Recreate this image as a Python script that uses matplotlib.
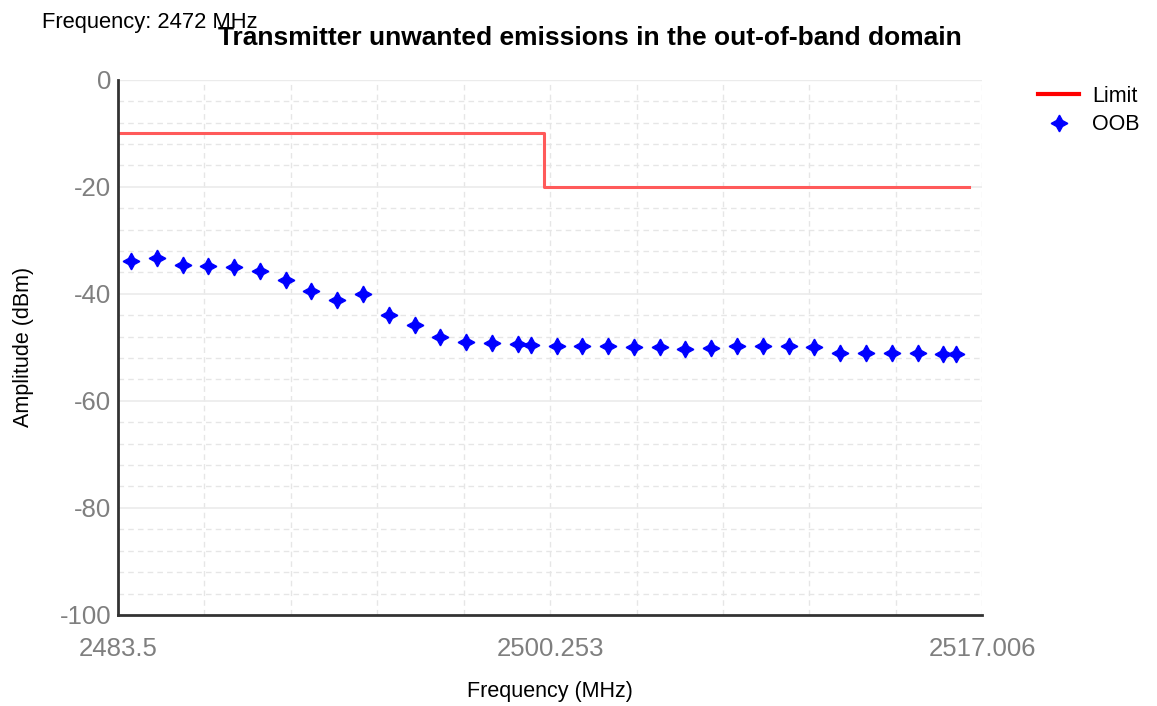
import matplotlib
matplotlib.use("Agg")
import matplotlib.pyplot as plt
import numpy as np

plt.rcParams['font.family'] = ['Liberation Sans', 'DejaVu Sans']
plt.rcParams['axes.unicode_minus'] = False

# Limit mask (step at 2500 MHz)
limit_freq = [2483.5, 2500.0, 2500.0, 2516.5]
limit_amp = [-10, -10, -20, -20]

# OOB measurements
oob_freq = [2484, 2485, 2486, 2487, 2488, 2489, 2490, 2491, 2492, 2493,
            2494, 2495, 2496, 2497, 2498, 2499, 2499.5,
            2500.5, 2501.5, 2502.5, 2503.5, 2504.5, 2505.5, 2506.5, 2507.5,
            2508.5, 2509.5, 2510.5, 2511.5, 2512.5, 2513.5, 2514.5, 2515.5, 2516]
oob_amp = [-33.8, -33.3, -34.7, -34.8, -35.0, -35.8, -37.4, -39.4, -41.1, -40.0,
           -43.9, -45.9, -48.0, -49.0, -49.2, -49.3, -49.5,
           -49.7, -49.8, -49.7, -49.9, -50.0, -50.3, -50.2, -49.7,
           -49.8, -49.8, -50.0, -51.0, -51.0, -51.1, -51.0, -51.2, -51.2]

x_min, x_max = 2483.5, 2517.006
x_ticks = [2483.5, 2500.253, 2517.006]
x_tick_labels = ['2483.5', '2500.253', '2517.006']
y_ticks = [0, -20, -40, -60, -80, -100]

fig = plt.figure(figsize=(11.57, 7.06), dpi=100)
ax = fig.add_axes([0.102, 0.129, 0.747, 0.758])

# grid
for xv in np.linspace(x_min, x_max, 11)[1:]:
    ax.axvline(xv, color='#e6e6e6', lw=1, ls=(0, (4, 3)), zorder=0)
for yv in range(-96, 0, 4):
    if yv % 20 == 0:
        ax.axhline(yv, color='#ebebeb', lw=1.2, zorder=0)
    else:
        ax.axhline(yv, color='#e6e6e6', lw=1, ls=(0, (4, 3)), zorder=0)
ax.axhline(0, color='#ebebeb', lw=1, zorder=0)

ax.plot(limit_freq, limit_amp, color='#ff5a5a', lw=2.2, label='Limit')
ax.plot(oob_freq, oob_amp, ls='none', marker=(4, 1, 0), ms=12,
        color='blue', markeredgewidth=1.0, label='OOB')

ax.set_xlim(x_min, x_max)
ax.set_ylim(-100, 0)
ax.set_xticks(x_ticks)
ax.set_xticklabels(x_tick_labels)
ax.set_yticks(y_ticks)
ax.tick_params(length=0, labelsize=18.5, colors='#7f7f7f')
ax.tick_params(axis='x', pad=16)
ax.tick_params(axis='y', pad=5)

for side in ['top', 'right']:
    ax.spines[side].set_visible(False)
for side in ['left', 'bottom']:
    ax.spines[side].set_color('#333333')
    ax.spines[side].set_linewidth(2)

ax.set_xlabel('Frequency (MHz)', fontsize=15.5, labelpad=14)
ax.set_ylabel('Amplitude (dBm)', fontsize=15.5, labelpad=18)
ax.set_title('Transmitter unwanted emissions in the out-of-band domain',
             fontsize=19, fontweight='bold', pad=25, x=0.546)

fig.text(0.036, 0.968, 'Frequency: 2472 MHz', fontsize=15.8, va='center')

leg = ax.legend(loc='upper left', bbox_to_anchor=(1.055, 1.005), frameon=False,
                fontsize=15.5, handlelength=1.9, handletextpad=0.6,
                labelspacing=0.35, borderaxespad=0)
leg.get_lines()[0].set_color('red')
leg.get_lines()[0].set_linewidth(3)

plt.savefig('out.png', dpi=100)
